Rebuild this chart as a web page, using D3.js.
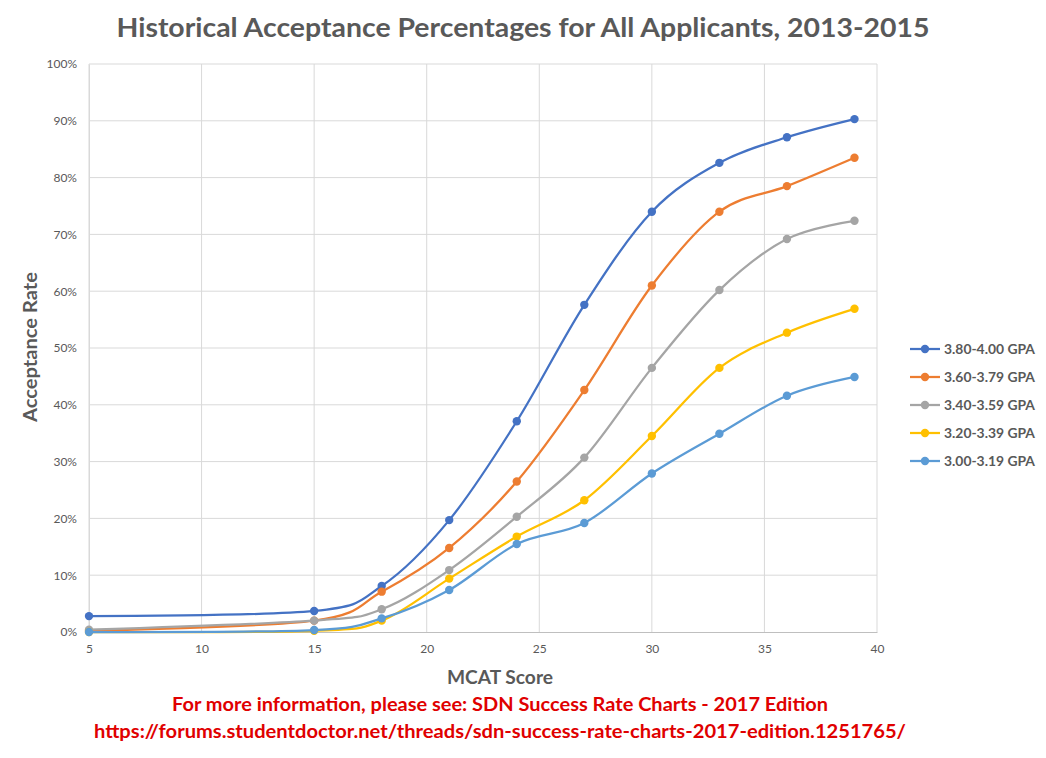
<!DOCTYPE html>
<html>
<head>
<meta charset="utf-8">
<script src="https://cdn.jsdelivr.net/npm/d3@7"></script>
<style>
  body { margin: 0; background: #fff; }
  svg { font-family: Lato, "Open Sans", sans-serif; }
</style>
</head>
<body>
<div id="chart"></div>
<script>
// MCAT scores on the x axis
const mcat = [5, 15, 18, 21, 24, 27, 30, 33, 36, 39];

// acceptance rates (%) per GPA band
const gpa380 = [2.8, 3.7, 8.1, 19.7, 37.1, 57.6, 74.0, 82.6, 87.1, 90.3];
const gpa360 = [0.2, 2.0, 7.1, 14.8, 26.5, 42.6, 61.0, 74.0, 78.5, 83.5];
const gpa340 = [0.4, 2.0, 4.0, 10.9, 20.3, 30.7, 46.5, 60.2, 69.2, 72.4];
const gpa320 = [0.0, 0.2, 2.0, 9.4, 16.8, 23.2, 34.5, 46.5, 52.7, 56.9];
const gpa300 = [0.0, 0.35, 2.4, 7.4, 15.5, 19.2, 27.9, 34.9, 41.6, 44.9];

const seriesNames = ["3.80-4.00 GPA", "3.60-3.79 GPA", "3.40-3.59 GPA", "3.20-3.39 GPA", "3.00-3.19 GPA"];
const seriesColors = ["#4472C4", "#ED7D31", "#A5A5A5", "#FFC000", "#5B9BD5"];
const seriesValues = [gpa380, gpa360, gpa340, gpa320, gpa300];

const xTicks = [5, 10, 15, 20, 25, 30, 35, 40];
const yTicks = [0, 10, 20, 30, 40, 50, 60, 70, 80, 90, 100];

const width = 1046, height = 758;
const margin = { left: 89, right: 169, top: 64, bottom: 126 };

const svg = d3.select("#chart").append("svg")
    .attr("width", width)
    .attr("height", height);

const x = d3.scaleLinear().domain([5, 40]).range([margin.left, width - margin.right]);
const y = d3.scaleLinear().domain([0, 100]).range([height - margin.bottom, margin.top]);

// gridlines
svg.append("g").selectAll("line.h")
    .data(yTicks.slice(1))
    .enter().append("line")
    .attr("x1", x(5)).attr("x2", x(40))
    .attr("y1", d => y(d)).attr("y2", d => y(d))
    .attr("stroke", "#d9d9d9").attr("stroke-width", 1);

svg.append("g").selectAll("line.v")
    .data(xTicks)
    .enter().append("line")
    .attr("x1", d => x(d)).attr("x2", d => x(d))
    .attr("y1", y(0)).attr("y2", y(100))
    .attr("stroke", "#d9d9d9").attr("stroke-width", 1);

// axes
const xAxis = svg.append("g")
    .attr("transform", `translate(0,${y(0)})`)
    .call(d3.axisBottom(x).tickValues(xTicks).tickSize(0).tickPadding(12));
xAxis.select(".domain").attr("stroke", "#bfbfbf");

const yAxis = svg.append("g")
    .attr("transform", `translate(${x(5)},0)`)
    .call(d3.axisLeft(y).tickValues(yTicks).tickSize(0).tickPadding(12).tickFormat(d => d + "%"));
yAxis.select(".domain").attr("stroke", "#d9d9d9");

svg.selectAll(".tick text")
    .attr("fill", "#595959")
    .style("font-size", "12px")
    .style("font-family", "Lato, 'Open Sans', sans-serif");

// lines (Excel-like smoothing)
const line = d3.line()
    .x((d, i) => x(mcat[i]))
    .y(d => y(d))
    .curve(d3.curveCardinal.tension(0));

const series = svg.append("g").selectAll("g.series")
    .data(seriesValues)
    .enter().append("g");

series.append("path")
    .attr("d", d => line(d))
    .attr("fill", "none")
    .attr("stroke", (d, i) => seriesColors[i])
    .attr("stroke-width", 2.25);

series.each(function(vals, si) {
    d3.select(this).selectAll("circle")
        .data(vals)
        .enter().append("circle")
        .attr("cx", (d, i) => x(mcat[i]))
        .attr("cy", d => y(d))
        .attr("r", 4.2)
        .attr("fill", seriesColors[si]);
});

// legend
const legend = svg.append("g").selectAll("g")
    .data(seriesNames)
    .enter().append("g")
    .attr("transform", (d, i) => `translate(910,${349 + i * 28})`);

legend.append("line")
    .attr("x1", 0).attr("x2", 30)
    .attr("stroke", (d, i) => seriesColors[i])
    .attr("stroke-width", 2.25);
legend.append("circle")
    .attr("cx", 15).attr("r", 4.2)
    .attr("fill", (d, i) => seriesColors[i]);
legend.append("text")
    .attr("x", 34).attr("dy", "0.35em")
    .attr("fill", "#595959")
    .style("font-size", "14px")
    .style("font-weight", "bold")
    .attr("textLength", 91)
    .attr("lengthAdjust", "spacingAndGlyphs")
    .text(d => d);

// titles
svg.append("text")
    .attr("x", 523).attr("y", 37)
    .attr("text-anchor", "middle")
    .attr("fill", "#595959")
    .style("font-size", "26px")
    .style("font-weight", "bold")
    .attr("textLength", 813)
    .attr("lengthAdjust", "spacingAndGlyphs")
    .text("Historical Acceptance Percentages for All Applicants, 2013-2015");

svg.append("text")
    .attr("x", 500).attr("y", 684)
    .attr("text-anchor", "middle")
    .attr("fill", "#595959")
    .style("font-size", "19px")
    .style("font-weight", "bold")
    .attr("textLength", 106)
    .attr("lengthAdjust", "spacingAndGlyphs")
    .text("MCAT Score");

svg.append("text")
    .attr("transform", "translate(37,347) rotate(-90)")
    .attr("text-anchor", "middle")
    .attr("fill", "#595959")
    .style("font-size", "19px")
    .style("font-weight", "bold")
    .attr("textLength", 150)
    .attr("lengthAdjust", "spacingAndGlyphs")
    .text("Acceptance Rate");

svg.append("text")
    .attr("x", 500).attr("y", 711)
    .attr("text-anchor", "middle")
    .attr("fill", "#e00000")
    .style("font-size", "18px")
    .style("font-weight", "bold")
    .attr("textLength", 656)
    .attr("lengthAdjust", "spacingAndGlyphs")
    .text("For more information, please see: SDN Success Rate Charts - 2017 Edition");

svg.append("text")
    .attr("x", 500).attr("y", 738)
    .attr("text-anchor", "middle")
    .attr("fill", "#e00000")
    .style("font-size", "18px")
    .style("font-weight", "bold")
    .attr("textLength", 812)
    .attr("lengthAdjust", "spacingAndGlyphs")
    .text("https://forums.studentdoctor.net/threads/sdn-success-rate-charts-2017-edition.1251765/");
</script>
</body>
</html>
